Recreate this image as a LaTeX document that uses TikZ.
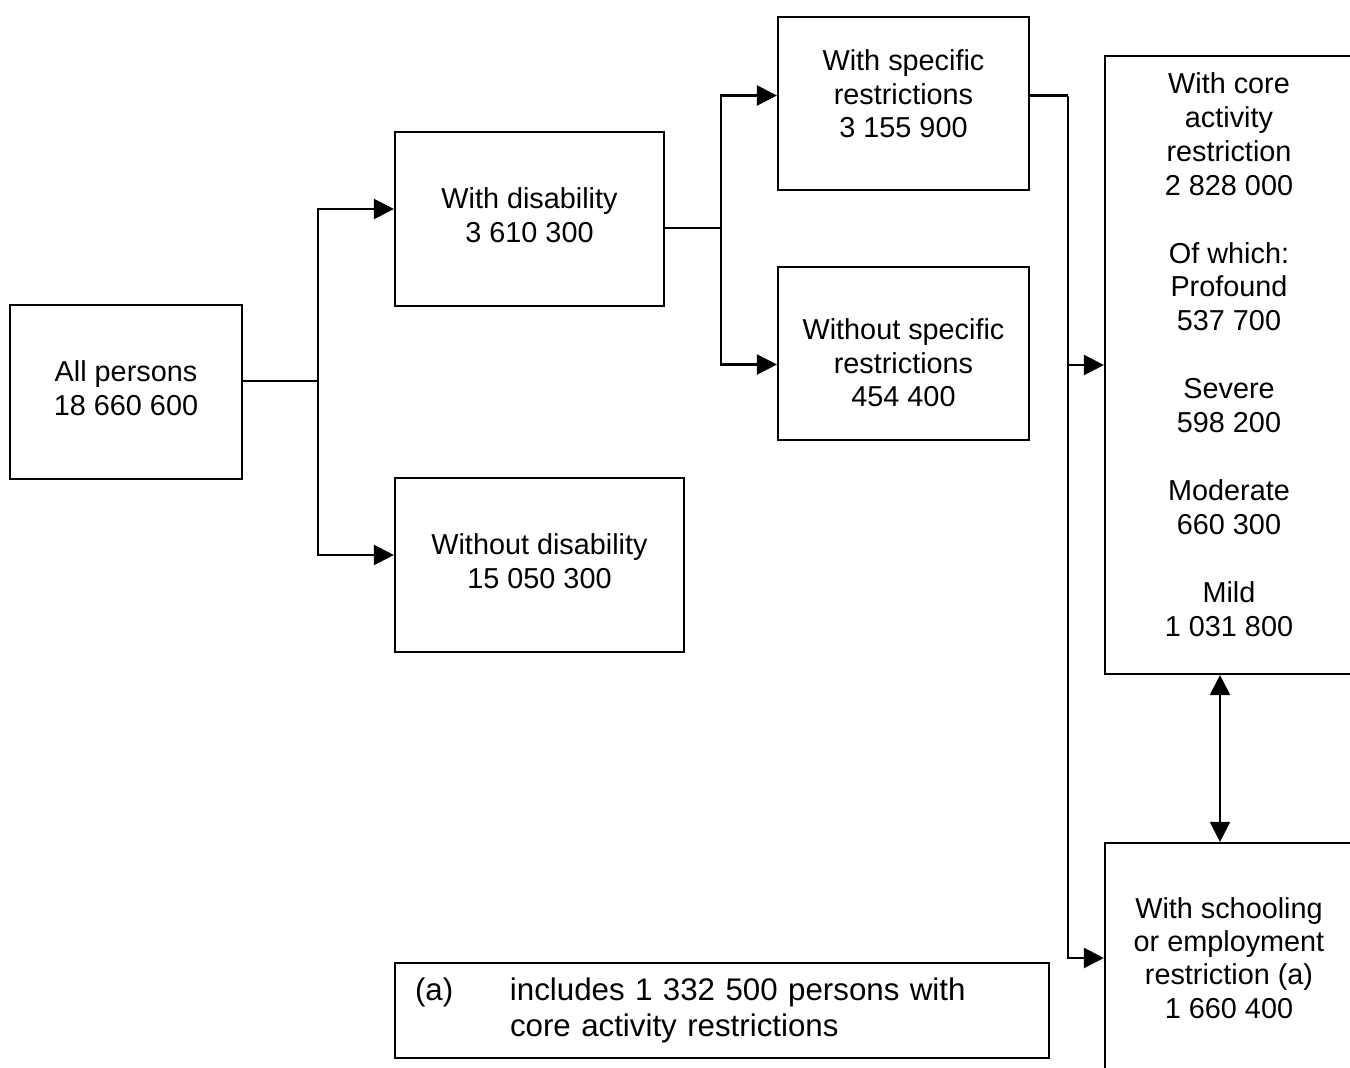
\documentclass[tikz,border=0pt]{standalone}
\usepackage{fontspec}
\setmainfont{Liberation Sans}
\usetikzlibrary{arrows.meta}
\newcommand{\lift}[2]{\raisebox{#1}[\height][\depth]{\begin{tabular}{@{}c@{}}#2\end{tabular}}}

\begin{document}
\begin{tikzpicture}[line width=0.6pt,-{Triangle[length=2mm,width=2mm]}]
            \tikzstyle{box}=[rectangle,draw=black,fill=white,align=center,inner sep=0pt,font=\fontsize{8.2}{9.5}\selectfont]
            \useasboundingbox (0,0) rectangle (13.5,-10.68);
            \clip (0,0) rectangle (13.5,-10.68);
                    \node[box,minimum width=2.32cm,minimum height=1.74cm] (B-0) at (1.26,-3.92){\lift{0cm}{All persons\\18 660 600}};
                    \node[box,minimum width=2.69cm,minimum height=1.74cm] (B-1) at (5.295,-2.19){\lift{0cm}{With disability\\3 610 300}};
                    \node[box,minimum width=2.89cm,minimum height=1.74cm] (B-2) at (5.395,-5.65){\lift{0cm}{Without disability\\15 050 300}};
                    \node[box,minimum width=2.51cm,minimum height=1.73cm] (B-3) at (9.035,-1.035){\lift{0.06cm}{With specific\\restrictions\\3 155 900}};
                    \node[box,minimum width=2.51cm,minimum height=1.73cm] (B-4) at (9.035,-3.535){\lift{-0.13cm}{Without specific\\restrictions\\454 400}};
                    \node[box,minimum width=2.48cm,minimum height=6.18cm,font=\fontsize{8.2}{9.65}\selectfont] (B-5) at (12.29,-3.65){\lift{0.07cm}{With core\\activity\\restriction\\2 828 000\\[9.65pt]Of which:\\Profound\\537 700\\[9.65pt]Severe\\598 200\\[9.65pt]Moderate\\660 300\\[9.65pt]Mild\\1 031 800}};
                    \node[box,minimum width=2.48cm,minimum height=2.30cm] (B-6) at (12.29,-9.58){With schooling\\or employment\\restriction (a)\\1 660 400};
                    \node[box,minimum width=6.54cm,minimum height=0.95cm,text width=6.14cm,align=left,font=\fontsize{8.9}{10.2}\selectfont] (B-7) at (7.22,-10.105){\makebox[0.95cm][l]{(a)}includes 1 332 500 persons with\\\hspace*{0.95cm}core activity restrictions};

                \draw[-] ([yshift=0.11cm]B-0.east) -- ++(0.75,0) coordinate (J-0);
                \draw[-] ([yshift=-0.09cm]B-1.east) -- ++(0.56,0) coordinate (J-1);
                \draw[-] ([yshift=0.08cm]B-3.east) -- ++(0.38,0) coordinate (J-2);
                \foreach \from/\to/\dy in {0/1/0.1, 0/2/0.1, 1/3/0.08, 1/4/-0.11, 2/5/0, 2/6/0}
                    \draw (J-\from) |- ([yshift=\dy cm]B-\to.west);
                \draw[{Triangle[length=2mm,width=2mm]}-{Triangle[length=2mm,width=2mm]}] ([xshift=-0.09cm]B-5.south) -- ([xshift=-0.09cm]B-6.north);
        \end{tikzpicture}
\end{document}
